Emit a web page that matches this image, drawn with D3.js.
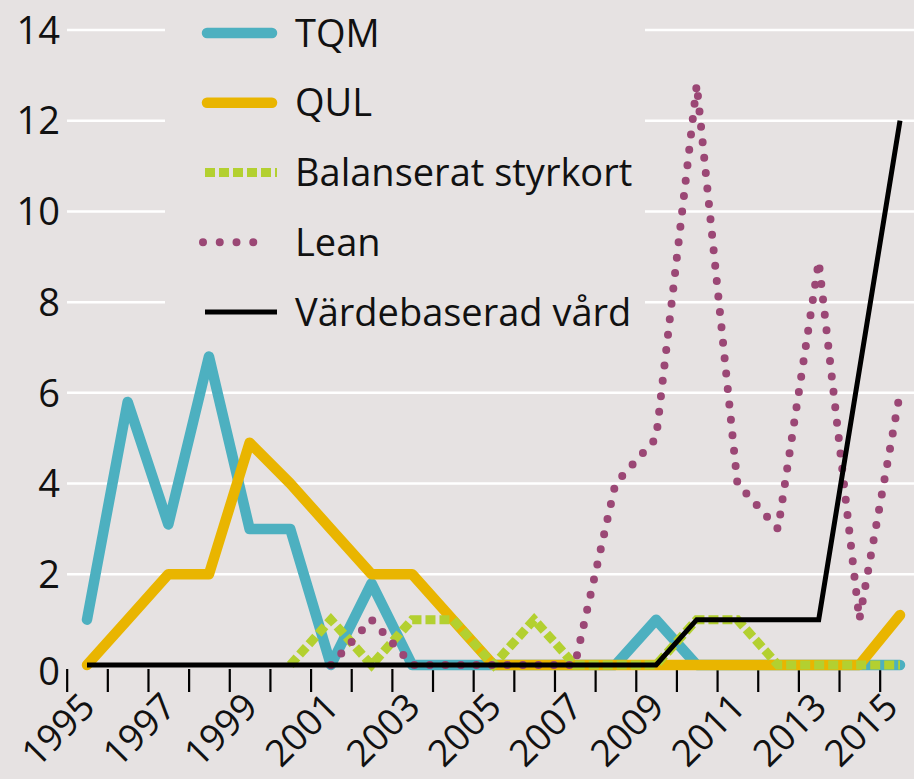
<!DOCTYPE html>
<html>
<head>
<meta charset="utf-8">
<script src="https://cdn.jsdelivr.net/npm/d3@7"></script>
<style>
    html, body { margin: 0; padding: 0; background: #e6e2e2; }
    svg { display: block; font-family: "Open Sans", sans-serif; }
</style>
</head>
<body>
<div id="graph-container"></div>
<script>
const years = [1995, 1996, 1997, 1998, 1999, 2000, 2001, 2002, 2003, 2004, 2005,
    2006, 2007, 2008, 2009, 2010, 2011, 2012, 2013, 2014, 2015]
const labelYears = [1995, 1997, 1999, 2001, 2003, 2005, 2007, 2009, 2011, 2013, 2015]
const yTicks = [0, 2, 4, 6, 8, 10, 12, 14]

const tqm = [1, 5.8, 3.1, 6.8, 3, 3, 0, 1.8, 0, 0, 0, 0, 0, 0, 1, 0, 0, 0, 0, 0, 0]
const qul = [0, 1, 2, 2, 4.9, 4, 3, 2, 2, 1, 0, 0, 0, 0, 0, 0, 0, 0, 0, 0, 1.1]
const styrkort = [null, null, null, null, null, 0, 1, 0, 1, 1, 0, 1, 0, 0, 0, 1, 1, 0, 0, 0, 0]
const lean = [null, null, null, null, null, null, 0, 1, 0, 0, 0, 0, 0, 4, 5, 12.8, 4, 3, 8.9, 1, 6]
const vardebaserad = [0, 0, 0, 0, 0, 0, 0, 0, 0, 0, 0, 0, 0, 0, 0, 1, 1, 1, 1, 6.5, 12]

const seriesNames = ["TQM", "QUL", "Balanserat styrkort", "Lean", "Värdebaserad vård"]

const width = 914
const height = 779
const bg = "#e6e2e2"

const styles = [
    {color: "#4db0c0", width: 10.5, dash: null, cap: "round"},
    {color: "#e9b500", width: 10.5, dash: null, cap: "round"},
    {color: "#b3d030", width: 9, dash: "10,4", cap: "butt"},
    {color: "#9b4775", width: 8, dash: "0,15.5", cap: "round"},
    {color: "#000000", width: 5, dash: null, cap: "butt"}
]

const series = [tqm, qul, styrkort, lean, vardebaserad].map((vals, i) => ({
    name: seriesNames[i],
    style: styles[i],
    values: vals.map((v, j) => ({year: years[j], value: v}))
}))

const x = d3.scaleLinear()
    .domain([1995, 2015])
    .range([87, 900])

const y = d3.scaleLinear()
    .domain([0, 14])
    .range([665, 30])

const svg = d3.select("#graph-container")
    .append("svg")
    .attr("id", "graph")
    .attr("width", width)
    .attr("height", height)

svg.append("rect")
    .attr("width", width)
    .attr("height", height)
    .attr("fill", bg)

// gridlines
svg.append("g")
    .selectAll("line")
    .data(yTicks.filter(d => d > 0))
    .enter()
    .append("line")
    .attr("x1", 67)
    .attr("x2", width)
    .attr("y1", d => y(d))
    .attr("y2", d => y(d))
    .attr("stroke", "#ffffff")
    .attr("stroke-width", 2.5)

// y labels
svg.append("g")
    .selectAll("text")
    .data(yTicks)
    .enter()
    .append("text")
    .attr("x", 60)
    .attr("y", d => y(d) + (d === 0 ? 6 : 0))
    .attr("dy", "0.36em")
    .attr("text-anchor", "end")
    .style("font-size", "38px")
    .style("fill", "#111")
    .text(d => d)

// x axis, ticks between years
const xAxis = d3.axisBottom(x)
    .tickValues(years.map(d => d - 0.5))
    .tickSize(23)
    .tickFormat("")

const axisG = svg.append("g")
    .attr("transform", `translate(0, 669)`)
    .call(xAxis)
axisG.select(".domain").remove()
axisG.selectAll(".tick line")
    .attr("stroke", "#000")
    .attr("stroke-width", 2.2)

// keep the last label inside the right edge
svg.append("g")
    .selectAll("text")
    .data(labelYears)
    .enter()
    .append("text")
    .attr("transform", d => `translate(${Math.min(x(d) + 10, 900)}, 709) rotate(-45)`)
    .attr("text-anchor", "end")
    .style("font-size", "37px")
    .style("fill", "#111")
    .text(d => d)

// legend box hides the gridlines behind it
const legend = svg.append("g")
legend.append("rect")
    .attr("x", 165)
    .attr("y", 0)
    .attr("width", 480)
    .attr("height", 335)
    .attr("fill", bg)

const legendY = d3.scalePoint()
    .domain(seriesNames)
    .range([33, 312])

const items = legend.selectAll(".item")
    .data(series)
    .enter()
    .append("g")
    .attr("class", "item")
    .attr("transform", d => `translate(0, ${legendY(d.name)})`)

items.append("line")
    .attr("x1", d => d.style.cap === "round" ? 207 : 205)
    .attr("x2", d => d.style.cap === "round" ? 272 : 277)
    .attr("stroke", d => d.style.color)
    .attr("stroke-width", d => d.style.width)
    .attr("stroke-linecap", d => d.style.cap)
    .attr("stroke-dasharray", d => d.name === "Lean" ? "0,16.75" : d.style.dash)
    .attr("transform", d => d.name === "Lean" ? "translate(-4, 0)" : null)

items.append("text")
    .attr("x", 295)
    .attr("dy", "0.36em")
    .style("font-size", "38px")
    .style("fill", "#111")
    .text(d => d.name)

// series
const line = d3.line()
    .defined(d => d.value !== null)
    .x(d => x(d.year))
    .y(d => y(d.value))

svg.append("g")
    .selectAll("path")
    .data(series)
    .enter()
    .append("path")
    .attr("class", "series")
    .attr("d", d => line(d.values))
    .attr("fill", "none")
    .attr("stroke", d => d.style.color)
    .attr("stroke-width", d => d.style.width)
    .attr("stroke-linecap", d => d.style.cap)
    .attr("stroke-linejoin", d => d.style.cap === "round" ? "round" : "miter")
    .attr("stroke-dasharray", d => d.style.dash)
</script>
</body>
</html>
